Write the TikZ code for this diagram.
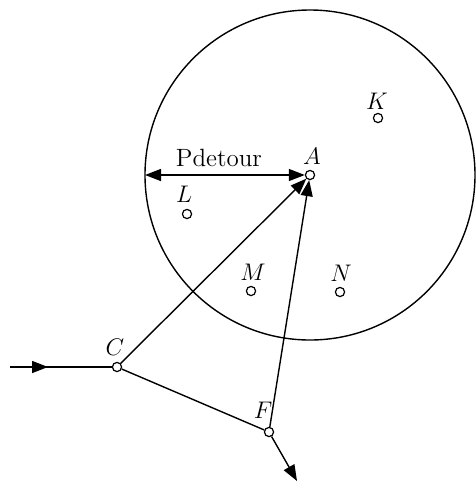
\documentclass[tikz,border=0pt]{standalone}
\usepackage{amsmath}
\usetikzlibrary{arrows.meta,positioning}

\tikzset{
  site/.style={circle, draw, line width=0.6pt, inner sep=0pt, minimum size=4.6pt, fill=white},
  lbl/.style={inner sep=0pt, font=\fontsize{12.5}{15}\selectfont},
  ray/.style={line width=0.7pt},
  tip/.style={-{Triangle[length=8pt,width=6pt]}}
}

\begin{document}
\begin{tikzpicture}[x=0.5pt, y=-0.5pt]
    \useasboundingbox (0,0) rectangle (476,488);

    % detour circle round A
    \draw[ray] (310,175) circle [radius=82.5pt];

    % sites
    \node[site] (A) at (310,175) {};
    \node[site] (K) at (378,118) {};
    \node[site] (L) at (187,214) {};
    \node[site] (M) at (251,291) {};
    \node[site] (N) at (340,292) {};
    \node[site] (C) at (117,367) {};
    \node[site] (F) at (269,432) {};

    % labels
    \node[lbl] (lA) at (312,156) {$A$};
    \node[lbl] (lK) at (377,101) {$K$};
    \node[lbl] (lL) at (184,194) {$L$};
    \node[lbl] (lM) at (253,272) {$M$};
    \node[lbl] (lN) at (341,273) {$N$};
    \node[lbl] (lC) at (115,347) {$C$};
    \node[lbl] (lF) at (263,410) {$F$};

    % radius of the circle
    \coordinate (rim) at (145,175);
    \draw[ray, {Triangle[length=8pt,width=6pt]}-{Triangle[length=8pt,width=6pt]}] (rim) -- (A.west);
    \node[lbl] (pd) at (219,158) {Pdetour};

    % incoming and outgoing path
    \coordinate (in) at (10,367);
    \coordinate (inmid) at (48,367);
    \coordinate (out) at (297,481);
    \draw[ray] (in) -- (C);
    \draw[ray, tip] (in) -- (inmid);
    \draw[ray] (C) -- (F);
    \draw[ray, tip] (F) -- (out);

    % towards A
    \draw[ray, tip] (C) -- (A);
    \draw[ray, tip] (F) -- (A);
\end{tikzpicture}
\end{document}
